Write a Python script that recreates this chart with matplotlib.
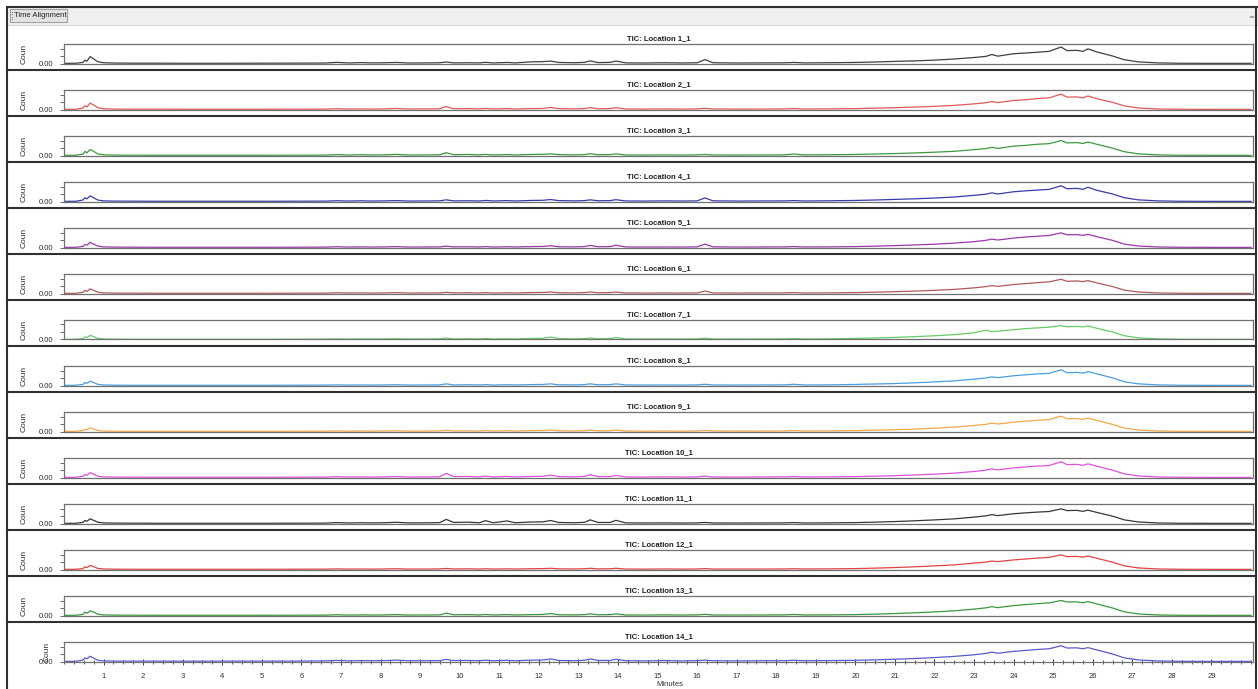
## TIC overlay, 14 locations, stacked panels

import matplotlib
matplotlib.use("Agg")
import matplotlib.pyplot as plt
from matplotlib.patches import Rectangle
from matplotlib.ticker import MultipleLocator

## retention time grid (minutes), shared by all traces
minutes = [0.00, 0.30, 0.48, 0.53, 0.58, 0.66, 0.75, 0.85, 1.00, 1.30,
           1.80, 2.40, 3.00, 4.00, 5.00, 6.00, 6.60, 6.90, 7.20, 7.50,
           7.80, 8.10, 8.40, 8.70, 9.20, 9.50, 9.66, 9.85, 10.20, 10.50,
           10.65, 10.85, 11.20, 11.40, 11.80, 12.10, 12.30, 12.50, 12.90, 13.15,
           13.30, 13.50, 13.80, 13.95, 14.20, 14.70, 15.20, 15.60, 16.00, 16.20,
           16.40, 17.00, 17.60, 18.20, 18.45, 18.70, 19.30, 20.00, 20.50, 21.00,
           21.50, 22.00, 22.50, 23.00, 23.30, 23.45, 23.60, 24.00, 24.30, 24.60,
           24.90, 25.20, 25.35, 25.60, 25.75, 25.88, 26.10, 26.50, 26.80, 27.15,
           27.65, 28.20, 29.00, 30.00]

## total ion counts per location (x10^6)
loc_1 = [0.02, 0.03, 0.15, 0.45, 0.30, 0.92, 0.60, 0.25, 0.10, 0.06,
         0.04, 0.04, 0.03, 0.03, 0.04, 0.05, 0.06, 0.15, 0.07, 0.12,
         0.08, 0.10, 0.14, 0.07, 0.08, 0.10, 0.20, 0.08, 0.10, 0.08,
         0.16, 0.07, 0.14, 0.08, 0.22, 0.25, 0.32, 0.14, 0.10, 0.15,
         0.35, 0.12, 0.15, 0.32, 0.08, 0.07, 0.10, 0.07, 0.10, 0.52,
         0.10, 0.07, 0.08, 0.09, 0.14, 0.08, 0.10, 0.14, 0.20, 0.28,
         0.35, 0.45, 0.60, 0.80, 0.95, 1.20, 0.98, 1.30, 1.40, 1.50,
         1.62, 2.20, 1.72, 1.75, 1.62, 1.95, 1.55, 1.00, 0.50, 0.22,
         0.08, 0.03, 0.02, 0.02]
loc_2 = [0.02, 0.03, 0.20, 0.50, 0.35, 0.85, 0.60, 0.25, 0.10, 0.05,
         0.04, 0.04, 0.03, 0.03, 0.03, 0.04, 0.05, 0.10, 0.06, 0.08,
         0.06, 0.08, 0.14, 0.07, 0.08, 0.10, 0.40, 0.10, 0.12, 0.08,
         0.14, 0.07, 0.12, 0.07, 0.12, 0.14, 0.28, 0.12, 0.08, 0.12,
         0.25, 0.10, 0.12, 0.24, 0.07, 0.06, 0.08, 0.06, 0.08, 0.16,
         0.07, 0.06, 0.06, 0.08, 0.12, 0.07, 0.08, 0.12, 0.18, 0.24,
         0.32, 0.42, 0.55, 0.75, 0.90, 1.05, 0.92, 1.20, 1.30, 1.45,
         1.55, 2.05, 1.65, 1.68, 1.55, 1.80, 1.45, 0.95, 0.48, 0.20,
         0.07, 0.03, 0.02, 0.02]
loc_3 = [0.02, 0.03, 0.18, 0.55, 0.35, 0.80, 0.55, 0.22, 0.09, 0.05,
         0.04, 0.03, 0.03, 0.03, 0.03, 0.04, 0.05, 0.12, 0.06, 0.10,
         0.07, 0.09, 0.15, 0.07, 0.08, 0.10, 0.38, 0.10, 0.14, 0.08,
         0.15, 0.07, 0.12, 0.07, 0.14, 0.16, 0.22, 0.12, 0.08, 0.12,
         0.24, 0.10, 0.12, 0.22, 0.07, 0.06, 0.08, 0.06, 0.08, 0.14,
         0.07, 0.06, 0.07, 0.08, 0.20, 0.08, 0.10, 0.14, 0.20, 0.26,
         0.34, 0.44, 0.56, 0.78, 0.92, 1.10, 0.95, 1.25, 1.35, 1.50,
         1.58, 2.00, 1.68, 1.72, 1.60, 1.80, 1.50, 0.98, 0.50, 0.22,
         0.08, 0.03, 0.02, 0.02]
loc_4 = [0.02, 0.03, 0.20, 0.50, 0.35, 0.75, 0.50, 0.20, 0.08, 0.05,
         0.04, 0.03, 0.03, 0.03, 0.03, 0.04, 0.05, 0.10, 0.06, 0.09,
         0.06, 0.08, 0.12, 0.06, 0.07, 0.09, 0.22, 0.08, 0.10, 0.07,
         0.14, 0.07, 0.12, 0.07, 0.14, 0.16, 0.26, 0.12, 0.08, 0.12,
         0.22, 0.10, 0.12, 0.24, 0.07, 0.06, 0.08, 0.06, 0.08, 0.48,
         0.09, 0.06, 0.07, 0.08, 0.12, 0.07, 0.09, 0.14, 0.20, 0.28,
         0.36, 0.46, 0.60, 0.82, 0.98, 1.15, 1.00, 1.30, 1.42, 1.52,
         1.62, 2.10, 1.70, 1.75, 1.62, 1.90, 1.50, 1.00, 0.50, 0.22,
         0.08, 0.03, 0.02, 0.02]
loc_5 = [0.02, 0.03, 0.15, 0.40, 0.30, 0.70, 0.45, 0.20, 0.08, 0.05,
         0.04, 0.03, 0.03, 0.03, 0.03, 0.04, 0.05, 0.10, 0.06, 0.08,
         0.06, 0.08, 0.12, 0.06, 0.07, 0.08, 0.18, 0.08, 0.10, 0.07,
         0.12, 0.06, 0.10, 0.07, 0.12, 0.14, 0.24, 0.10, 0.08, 0.12,
         0.28, 0.10, 0.12, 0.30, 0.07, 0.06, 0.07, 0.06, 0.08, 0.45,
         0.09, 0.06, 0.07, 0.08, 0.12, 0.07, 0.08, 0.12, 0.18, 0.25,
         0.34, 0.44, 0.58, 0.78, 0.95, 1.12, 1.00, 1.25, 1.40, 1.50,
         1.60, 1.95, 1.70, 1.72, 1.62, 1.75, 1.45, 0.95, 0.45, 0.20,
         0.07, 0.03, 0.02, 0.02]
loc_6 = [0.02, 0.03, 0.15, 0.40, 0.28, 0.62, 0.42, 0.18, 0.08, 0.05,
         0.04, 0.03, 0.03, 0.03, 0.03, 0.04, 0.05, 0.10, 0.06, 0.08,
         0.06, 0.08, 0.12, 0.06, 0.07, 0.08, 0.16, 0.08, 0.10, 0.07,
         0.12, 0.06, 0.10, 0.07, 0.12, 0.14, 0.20, 0.10, 0.08, 0.12,
         0.20, 0.10, 0.12, 0.20, 0.07, 0.06, 0.07, 0.06, 0.08, 0.32,
         0.08, 0.06, 0.07, 0.08, 0.12, 0.07, 0.08, 0.12, 0.18, 0.24,
         0.32, 0.42, 0.55, 0.75, 0.92, 1.05, 0.95, 1.20, 1.32, 1.45,
         1.55, 1.90, 1.62, 1.68, 1.58, 1.72, 1.42, 0.92, 0.45, 0.20,
         0.07, 0.03, 0.02, 0.02]
loc_7 = [0.02, 0.03, 0.12, 0.35, 0.25, 0.55, 0.38, 0.16, 0.07, 0.04,
         0.03, 0.03, 0.03, 0.03, 0.03, 0.04, 0.05, 0.08, 0.05, 0.07,
         0.06, 0.07, 0.10, 0.06, 0.07, 0.08, 0.20, 0.07, 0.10, 0.07,
         0.14, 0.06, 0.10, 0.07, 0.14, 0.16, 0.32, 0.12, 0.08, 0.12,
         0.20, 0.10, 0.12, 0.26, 0.07, 0.06, 0.07, 0.06, 0.08, 0.18,
         0.07, 0.06, 0.07, 0.08, 0.12, 0.07, 0.08, 0.14, 0.20, 0.28,
         0.38, 0.50, 0.65, 0.90, 1.25, 1.05, 1.10, 1.30, 1.45, 1.55,
         1.65, 1.85, 1.70, 1.75, 1.68, 1.80, 1.50, 1.00, 0.50, 0.22,
         0.08, 0.03, 0.02, 0.02]
loc_8 = [0.02, 0.03, 0.15, 0.40, 0.28, 0.58, 0.40, 0.16, 0.07, 0.04,
         0.03, 0.03, 0.03, 0.03, 0.03, 0.04, 0.05, 0.08, 0.05, 0.07,
         0.06, 0.07, 0.10, 0.06, 0.07, 0.08, 0.22, 0.07, 0.10, 0.07,
         0.12, 0.06, 0.10, 0.07, 0.12, 0.14, 0.22, 0.10, 0.08, 0.12,
         0.22, 0.10, 0.12, 0.22, 0.07, 0.06, 0.07, 0.06, 0.08, 0.16,
         0.07, 0.06, 0.07, 0.08, 0.16, 0.07, 0.08, 0.14, 0.20, 0.26,
         0.36, 0.48, 0.62, 0.85, 1.00, 1.15, 1.05, 1.30, 1.42, 1.55,
         1.62, 2.10, 1.70, 1.75, 1.65, 1.85, 1.55, 1.02, 0.50, 0.22,
         0.08, 0.03, 0.02, 0.02]
loc_9 = [0.02, 0.03, 0.12, 0.30, 0.22, 0.48, 0.32, 0.14, 0.06, 0.04,
         0.03, 0.03, 0.03, 0.03, 0.03, 0.04, 0.05, 0.08, 0.05, 0.07,
         0.05, 0.07, 0.10, 0.06, 0.06, 0.08, 0.16, 0.07, 0.09, 0.06,
         0.12, 0.06, 0.10, 0.06, 0.12, 0.14, 0.20, 0.10, 0.07, 0.10,
         0.20, 0.09, 0.10, 0.20, 0.06, 0.05, 0.07, 0.05, 0.07, 0.14,
         0.07, 0.06, 0.06, 0.07, 0.12, 0.07, 0.08, 0.12, 0.18, 0.24,
         0.32, 0.44, 0.58, 0.80, 0.95, 1.12, 1.00, 1.25, 1.38, 1.50,
         1.58, 2.05, 1.70, 1.72, 1.62, 1.78, 1.48, 0.95, 0.45, 0.20,
         0.07, 0.03, 0.02, 0.02]
loc_10 = [0.02, 0.03, 0.15, 0.40, 0.30, 0.65, 0.45, 0.18, 0.08, 0.05,
          0.04, 0.03, 0.03, 0.03, 0.03, 0.04, 0.05, 0.10, 0.06, 0.08,
          0.06, 0.08, 0.12, 0.06, 0.07, 0.10, 0.55, 0.12, 0.14, 0.08,
          0.18, 0.07, 0.14, 0.07, 0.14, 0.16, 0.32, 0.12, 0.08, 0.14,
          0.36, 0.12, 0.12, 0.28, 0.07, 0.06, 0.08, 0.06, 0.08, 0.18,
          0.07, 0.06, 0.07, 0.08, 0.12, 0.07, 0.08, 0.12, 0.18, 0.24,
          0.34, 0.44, 0.58, 0.80, 0.98, 1.15, 1.02, 1.28, 1.40, 1.52,
          1.60, 2.10, 1.72, 1.75, 1.62, 1.82, 1.50, 0.98, 0.48, 0.21,
          0.07, 0.03, 0.02, 0.02]
loc_11 = [0.02, 0.03, 0.15, 0.40, 0.30, 0.62, 0.42, 0.18, 0.08, 0.05,
          0.04, 0.03, 0.03, 0.03, 0.03, 0.04, 0.05, 0.12, 0.07, 0.10,
          0.08, 0.10, 0.16, 0.08, 0.09, 0.12, 0.55, 0.14, 0.18, 0.10,
          0.38, 0.10, 0.34, 0.10, 0.20, 0.22, 0.40, 0.14, 0.10, 0.16,
          0.48, 0.14, 0.14, 0.42, 0.08, 0.07, 0.08, 0.06, 0.08, 0.14,
          0.07, 0.06, 0.07, 0.08, 0.12, 0.07, 0.08, 0.12, 0.18, 0.26,
          0.36, 0.48, 0.62, 0.85, 1.02, 1.18, 1.05, 1.30, 1.42, 1.52,
          1.60, 1.95, 1.72, 1.75, 1.62, 1.78, 1.48, 0.98, 0.48, 0.21,
          0.07, 0.03, 0.02, 0.02]
loc_12 = [0.02, 0.03, 0.12, 0.35, 0.25, 0.55, 0.38, 0.15, 0.07, 0.04,
          0.03, 0.03, 0.03, 0.03, 0.03, 0.04, 0.05, 0.08, 0.05, 0.07,
          0.05, 0.07, 0.10, 0.06, 0.06, 0.08, 0.14, 0.07, 0.09, 0.06,
          0.10, 0.06, 0.09, 0.06, 0.10, 0.12, 0.16, 0.09, 0.07, 0.10,
          0.16, 0.08, 0.10, 0.16, 0.06, 0.05, 0.07, 0.05, 0.07, 0.12,
          0.06, 0.06, 0.06, 0.07, 0.10, 0.07, 0.08, 0.12, 0.18, 0.26,
          0.36, 0.48, 0.62, 0.85, 1.00, 1.12, 1.05, 1.28, 1.40, 1.52,
          1.62, 1.95, 1.72, 1.75, 1.65, 1.80, 1.50, 0.98, 0.48, 0.21,
          0.07, 0.03, 0.02, 0.02]
loc_13 = [0.02, 0.03, 0.15, 0.45, 0.30, 0.62, 0.45, 0.18, 0.08, 0.05,
          0.04, 0.03, 0.03, 0.03, 0.03, 0.04, 0.05, 0.10, 0.06, 0.08,
          0.06, 0.08, 0.12, 0.06, 0.07, 0.09, 0.32, 0.10, 0.12, 0.07,
          0.14, 0.07, 0.12, 0.07, 0.12, 0.14, 0.26, 0.10, 0.08, 0.12,
          0.22, 0.10, 0.12, 0.22, 0.07, 0.06, 0.08, 0.06, 0.08, 0.16,
          0.07, 0.06, 0.07, 0.08, 0.14, 0.07, 0.08, 0.12, 0.18, 0.26,
          0.36, 0.48, 0.62, 0.85, 1.02, 1.18, 1.05, 1.32, 1.45, 1.58,
          1.68, 2.00, 1.80, 1.82, 1.70, 1.85, 1.55, 1.00, 0.48, 0.21,
          0.07, 0.03, 0.02, 0.02]
loc_14 = [0.02, 0.03, 0.18, 0.50, 0.35, 0.70, 0.45, 0.18, 0.08, 0.05,
          0.05, 0.05, 0.04, 0.05, 0.05, 0.06, 0.08, 0.14, 0.08, 0.12,
          0.10, 0.12, 0.18, 0.10, 0.10, 0.12, 0.28, 0.12, 0.14, 0.10,
          0.18, 0.10, 0.16, 0.10, 0.18, 0.20, 0.34, 0.14, 0.10, 0.16,
          0.34, 0.14, 0.14, 0.30, 0.10, 0.08, 0.12, 0.08, 0.10, 0.18,
          0.10, 0.08, 0.10, 0.10, 0.16, 0.10, 0.12, 0.16, 0.22, 0.30,
          0.40, 0.52, 0.68, 0.90, 1.08, 1.25, 1.10, 1.35, 1.48, 1.60,
          1.70, 2.10, 1.80, 1.82, 1.70, 1.85, 1.55, 1.00, 0.48, 0.21,
          0.07, 0.03, 0.02, 0.02]

traces = [loc_1, loc_2, loc_3, loc_4, loc_5, loc_6, loc_7,
          loc_8, loc_9, loc_10, loc_11, loc_12, loc_13, loc_14]
names = ['Location %d_1' % (i + 1) for i in range(14)]
colors = ['#404040', '#e05a5a', '#3f9a3f', '#3a3aa8', '#9a3aa8', '#b05a5a', '#66cc66',
          '#4a9ede', '#f5a84a', '#e050e0', '#383838', '#e04444', '#3a9a3a', '#5a5acc']

W, H = 1258, 689
fig = plt.figure(figsize=(W / 100, H / 100), dpi=100)
fig.patch.set_facecolor('white')

narrow = ['Liberation Sans Narrow', 'Liberation Sans', 'DejaVu Sans']
plain = ['Liberation Sans', 'DejaVu Sans']

## window chrome drawn in pixel coords
bg = fig.add_axes([0, 0, 1, 1])
bg.set_xlim(0, W)
bg.set_ylim(H, 0)
bg.axis('off')
bg.add_patch(Rectangle((7, 7), W - 7, 18, facecolor='#f0f0f0', edgecolor='none'))
bg.plot([7, W], [7, 7], color='#303030', lw=1.5)
bg.plot([7, W], [25, 25], color='#d8d8d8', lw=0.8)
bg.plot([7, 7], [7, H], color='#303030', lw=1.5)
bg.plot([1256, 1256], [7, H], color='#303030', lw=1.5)
bg.add_patch(Rectangle((10, 9), 57, 13, facecolor='#e4e4e4', edgecolor='#a0a0a0', lw=0.8))
bg.text(14, 15.8, 'Time Alignment', fontsize=5.5, family=plain, va='center', ha='left', color='#202020')
for gy in (11.5, 14, 16.5, 19):
    bg.plot([11.5], [gy], marker='o', ms=0.6, mew=0, color='#606060')
bg.text(1251, 17, '=', fontsize=5, color='#707070', ha='center', va='center')
for k in range(13):
    y = 70 + 46 * k
    bg.plot([7, 1256], [y, y], color='#303030', lw=1.5)

x0, x1 = 64, 1253
box_h = 19.5
for i, (vals, color, name) in enumerate(zip(traces, colors, names)):
    top = 44 + 46 * i
    ax = fig.add_axes([x0 / W, 1 - (top + box_h) / H, (x1 - x0) / W, box_h / H])
    ax.plot(minutes, vals, color=color, lw=0.9)
    ax.set_xlim(0, 30.05)
    ax.set_ylim(0, 2.6)
    ax.set_yticks([0, 1, 2])
    ax.set_yticklabels(['0.00', '', ''], fontsize=5.5, family=plain)
    ax.tick_params(axis='y', length=3, width=0.6, pad=5, colors='#505050', labelcolor='#303030')
    for sp in ax.spines.values():
        sp.set_color('#707070')
        sp.set_linewidth(0.9)
    ax.set_title('TIC: ' + name, fontsize=5.5, fontweight='bold', family=narrow, pad=2.5, color='#202020')
    ax.set_ylabel('Coun', fontsize=6, family=plain, color='#303030')
    if i < 13:
        ax.set_xticks([])
        ax.yaxis.set_label_coords(-0.031, 0.5)
    else:
        ax.set_xticks(range(1, 30))
        ax.xaxis.set_minor_locator(MultipleLocator(0.25))
        ax.tick_params(axis='x', which='major', direction='inout', length=5, width=0.7,
                       labelsize=5.5, pad=6, colors='#404040', labelcolor='#303030')
        ax.tick_params(axis='x', which='minor', direction='inout', length=3, width=0.6, colors='#404040')
        for lab in ax.get_xticklabels():
            lab.set_family(plain)
        ax.yaxis.set_label_coords(-0.011, 0.5)

fig.text(670 / W, 1 - 684.5 / H, 'Minutes', fontsize=5.5, family=plain, ha='center', va='center', color='#303030')

fig.savefig('out.png', dpi=100)
